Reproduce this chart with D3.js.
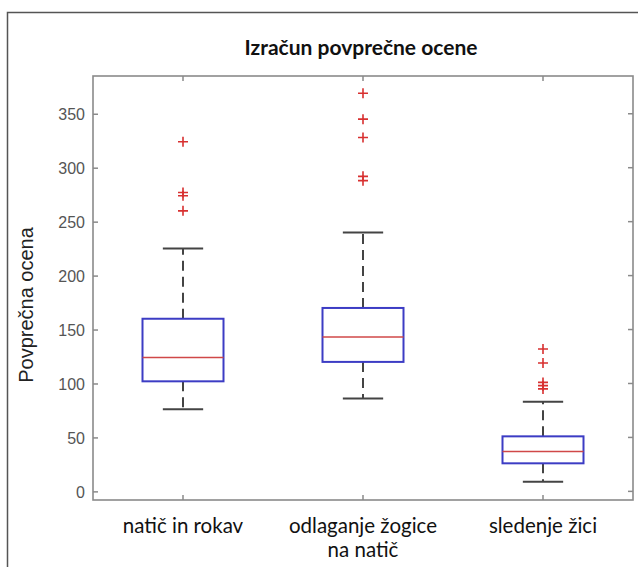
<!DOCTYPE html>
<html>
<head>
<meta charset="utf-8">
<script src="https://cdn.jsdelivr.net/npm/d3@7"></script>
<style>
body { margin: 0; background: #fff; }
svg { display: block; }
.ytick text { font-family: "Liberation Sans", Arial, sans-serif; fill: #555; }
</style>
</head>
<body>
<svg id="chart"></svg>
<script>
var width = 638;
var height = 567;

var title = "Izračun povprečne ocene";
var yLabel = "Povprečna ocena";
var categories = [["natič in rokav"], ["odlaganje žogice", "na natič"], ["sledenje žici"]];
var q1 = [102, 120, 26];
var median = [124, 143, 37];
var q3 = [160, 170, 51];
var whiskerLow = [76, 86, 9];
var whiskerHigh = [225, 240, 83];
var outliers = [[324, 277, 274, 260], [369, 345, 328, 292, 288], [132, 119, 101, 98, 95]];
var yTicks = [0, 50, 100, 150, 200, 250, 300, 350];

var plotL = 93, plotR = 633, plotT = 76, plotB = 500;
var boxHalf = 0.225, capHalf = 0.112, tickLen = 5;

var svg = d3.select("#chart").attr("width", width).attr("height", height);

var x = d3.scaleLinear().domain([0.5, 3.5]).range([plotL, plotR]);
var y = d3.scaleLinear().domain([-8, 385]).range([plotB, plotT]);

// outer frame
svg.append("rect")
	.attr("x", 7.5).attr("y", 12.5)
	.attr("width", 660).attr("height", 600)
	.attr("fill", "none").attr("stroke", "#555").attr("stroke-width", 1.5);

// title
svg.append("text")
	.attr("x", 361).attr("y", 55)
	.attr("text-anchor", "middle")
	.attr("font-family", "Lato, 'Open Sans', sans-serif")
	.attr("font-weight", "bold")
	.attr("font-size", 21)
	.attr("fill", "#111")
	.text(title);

// axes box
var axisColor = "#8a8a8a";
svg.append("rect")
	.attr("x", plotL).attr("y", plotT)
	.attr("width", plotR - plotL).attr("height", plotB - plotT)
	.attr("fill", "none").attr("stroke", axisColor).attr("stroke-width", 1.6);

// y axis (left) with ticks pointing in
var yAxis = svg.append("g")
	.attr("class", "ytick")
	.attr("transform", "translate(" + plotL + ",0)")
	.call(d3.axisLeft(y).tickValues(yTicks).tickSize(-tickLen).tickPadding(8));
yAxis.select(".domain").remove();
yAxis.selectAll("line").attr("stroke", axisColor).attr("stroke-width", 1.5);
yAxis.selectAll("text").attr("font-size", 16).attr("dy", "0.36em");

// right side ticks
svg.append("g")
	.selectAll("line").data(yTicks).enter()
	.append("line")
	.attr("x1", plotR).attr("x2", plotR - tickLen)
	.attr("y1", function(d) { return y(d); })
	.attr("y2", function(d) { return y(d); })
	.attr("stroke", axisColor).attr("stroke-width", 1.5);

// x ticks bottom and top
var idx = [1, 2, 3];
svg.append("g").selectAll("line").data(idx).enter()
	.append("line")
	.attr("x1", function(d) { return x(d); }).attr("x2", function(d) { return x(d); })
	.attr("y1", plotB).attr("y2", plotB - tickLen)
	.attr("stroke", axisColor).attr("stroke-width", 1.5);
svg.append("g").selectAll("line").data(idx).enter()
	.append("line")
	.attr("x1", function(d) { return x(d); }).attr("x2", function(d) { return x(d); })
	.attr("y1", plotT).attr("y2", plotT + tickLen)
	.attr("stroke", axisColor).attr("stroke-width", 1.5);

// x category labels
var xl = svg.append("g").selectAll("text").data(categories).enter()
	.append("text")
	.attr("x", function(d, i) { return x(i + 1); })
	.attr("y", 533)
	.attr("text-anchor", "middle")
	.attr("font-family", "Lato, 'Open Sans', sans-serif")
	.attr("font-size", 20.5)
	.attr("fill", "#111");
xl.selectAll("tspan").data(function(d) { return d; }).enter()
	.append("tspan")
	.attr("x", function() { return d3.select(this.parentNode).attr("x"); })
	.attr("dy", function(d, j) { return j === 0 ? 0 : 24; })
	.text(function(d) { return d; });

// y label
svg.append("text")
	.attr("transform", "translate(33,305) rotate(-90)")
	.attr("text-anchor", "middle")
	.attr("font-family", "'Liberation Sans', Arial, sans-serif")
	.attr("font-size", 20)
	.attr("fill", "#222")
	.text(yLabel);

// boxplots
var boxes = svg.append("g").selectAll("g").data(categories).enter()
	.append("g");

var whiskerColor = "#444";
boxes.append("line")
	.attr("x1", function(d, i) { return x(i + 1); }).attr("x2", function(d, i) { return x(i + 1); })
	.attr("y1", function(d, i) { return y(q3[i]); })
	.attr("y2", function(d, i) { return y(whiskerHigh[i]); })
	.attr("stroke", whiskerColor).attr("stroke-width", 2).attr("stroke-dasharray", "10,6");
boxes.append("line")
	.attr("x1", function(d, i) { return x(i + 1); }).attr("x2", function(d, i) { return x(i + 1); })
	.attr("y1", function(d, i) { return y(q1[i]); })
	.attr("y2", function(d, i) { return y(whiskerLow[i]); })
	.attr("stroke", whiskerColor).attr("stroke-width", 2).attr("stroke-dasharray", "10,6");
boxes.append("line")
	.attr("x1", function(d, i) { return x(i + 1 - capHalf); }).attr("x2", function(d, i) { return x(i + 1 + capHalf); })
	.attr("y1", function(d, i) { return y(whiskerHigh[i]); })
	.attr("y2", function(d, i) { return y(whiskerHigh[i]); })
	.attr("stroke", whiskerColor).attr("stroke-width", 2);
boxes.append("line")
	.attr("x1", function(d, i) { return x(i + 1 - capHalf); }).attr("x2", function(d, i) { return x(i + 1 + capHalf); })
	.attr("y1", function(d, i) { return y(whiskerLow[i]); })
	.attr("y2", function(d, i) { return y(whiskerLow[i]); })
	.attr("stroke", whiskerColor).attr("stroke-width", 2);

boxes.append("rect")
	.attr("x", function(d, i) { return x(i + 1 - boxHalf); })
	.attr("y", function(d, i) { return y(q3[i]); })
	.attr("width", x(1 + boxHalf) - x(1 - boxHalf))
	.attr("height", function(d, i) { return y(q1[i]) - y(q3[i]); })
	.attr("fill", "none").attr("stroke", "#3c3cc4").attr("stroke-width", 2);
boxes.append("line")
	.attr("x1", function(d, i) { return x(i + 1 - boxHalf); }).attr("x2", function(d, i) { return x(i + 1 + boxHalf); })
	.attr("y1", function(d, i) { return y(median[i]); })
	.attr("y2", function(d, i) { return y(median[i]); })
	.attr("stroke", "#d04848").attr("stroke-width", 1.5);

// outliers as '+'
var pts = [];
outliers.forEach(function(list, i) {
	list.forEach(function(v) { pts.push({i: i, v: v}); });
});
svg.append("g").selectAll("path").data(pts).enter()
	.append("path")
	.attr("d", function(d) {
		var cx = x(d.i + 1), cy = y(d.v), r = 5;
		return "M" + (cx - r) + "," + cy + "H" + (cx + r) + "M" + cx + "," + (cy - r) + "V" + (cy + r);
	})
	.attr("stroke", "#d83030").attr("stroke-width", 1.6).attr("fill", "none");
</script>
</body>
</html>
